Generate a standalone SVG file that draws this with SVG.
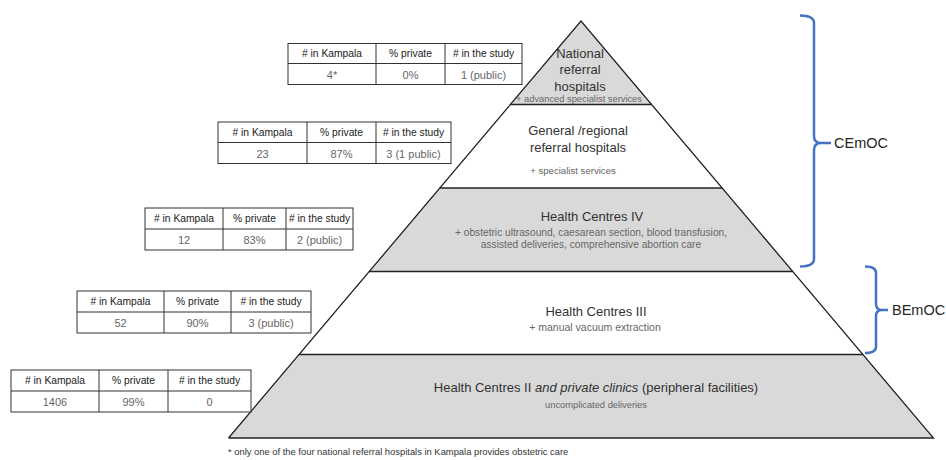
<svg xmlns="http://www.w3.org/2000/svg" width="946" height="460" viewBox="0 0 946 460">
<style>
text{font-family:"Liberation Sans",Arial,sans-serif}
.title{font-size:13px;fill:#333;text-anchor:middle}
.sub{fill:#666;text-anchor:middle}
.hd{font-size:10.3px;fill:#222;text-anchor:middle}
.val{font-size:11px;fill:#666;text-anchor:middle}
.tb{fill:#fff;stroke:#333;stroke-width:1}
.tl{stroke:#333;stroke-width:1}
.gray{fill:#d9d9d9}
.white{fill:#fff}
.edge{stroke:#222;stroke-width:1.3;fill:none}
.brace{stroke:#4472c4;stroke-width:2.5;fill:none;stroke-linecap:butt}
.lbl{font-size:14.5px;fill:#262626}
.foot{font-size:9.4px;fill:#333}
</style>
<rect width="946" height="460" fill="#fff"/>

<g id="tier-national">
<polygon class="gray" points="581,21 651.6,104.5 510.4,104.5"/>
<text class="title" x="580" y="58">National</text>
<text class="title" x="580" y="74">referral</text>
<text class="title" x="580" y="91">hospitals</text>
<text class="sub" x="579" y="101.5" font-size="9.3">+ advanced specialist services</text>
</g>

<g id="tier-general">
<polygon class="white" points="510.4,104.5 651.6,104.5 722.2,188 439.8,188"/>
<text class="title" x="578" y="135">General /regional</text>
<text class="title" x="578" y="152">referral hospitals</text>
<text class="sub" x="573" y="174" font-size="9.6">+ specialist services</text>
</g>

<g id="tier-hc4">
<polygon class="gray" points="439.8,188 722.2,188 792.7,271.5 369.3,271.5"/>
<text class="title" x="592" y="221">Health Centres IV</text>
<text class="sub" x="591" y="236" font-size="10.2">+ obstetric ultrasound, caesarean section, blood transfusion,</text>
<text class="sub" x="591" y="248" font-size="10.2">assisted deliveries, comprehensive abortion care</text>
</g>

<g id="tier-hc3">
<polygon class="white" points="369.3,271.5 792.7,271.5 862.9,354.5 299.1,354.5"/>
<text class="title" x="596" y="316">Health Centres III</text>
<text class="sub" x="595" y="331" font-size="10.5">+ manual vacuum extraction</text>
</g>

<g id="tier-hc2">
<polygon class="gray" points="299.1,354.5 862.9,354.5 933.5,438 228.5,438"/>
<text class="title" x="596" y="392">Health Centres II <tspan font-style="italic">and private clinics</tspan> (peripheral facilities)</text>
<text class="sub" x="596" y="408" font-size="9.3">uncomplicated deliveries</text>
</g>

<g id="pyramid-outline">
<polyline class="edge" points="228.5,438 581,21 933.5,438 228.5,438"/>
<line class="edge" x1="510.4" y1="104.5" x2="651.6" y2="104.5"/>
<line class="edge" x1="439.8" y1="188" x2="722.2" y2="188"/>
<line class="edge" x1="369.3" y1="271.5" x2="792.7" y2="271.5"/>
<line class="edge" x1="299.1" y1="354.5" x2="862.9" y2="354.5"/>
</g>

<g id="table-national">
<rect class="tb" x="288" y="43.5" width="234" height="41"/>
<line class="tl" x1="288" y1="63.5" x2="522" y2="63.5"/>
<line class="tl" x1="376" y1="43.5" x2="376" y2="84.5"/>
<line class="tl" x1="445" y1="43.5" x2="445" y2="84.5"/>
<text class="hd" x="332" y="57"># in Kampala</text>
<text class="hd" x="410.5" y="57">% private</text>
<text class="hd" x="483.5" y="57"># in the study</text>
<text class="val" x="332" y="78.5">4*</text>
<text class="val" x="410.5" y="78.5">0%</text>
<text class="val" x="483.5" y="78.5">1 (public)</text>
</g>

<g id="table-general">
<rect class="tb" x="218" y="122" width="233" height="41.5"/>
<line class="tl" x1="218" y1="142.5" x2="451" y2="142.5"/>
<line class="tl" x1="307" y1="122" x2="307" y2="163.5"/>
<line class="tl" x1="376" y1="122" x2="376" y2="163.5"/>
<text class="hd" x="262.5" y="136"># in Kampala</text>
<text class="hd" x="341.5" y="136">% private</text>
<text class="hd" x="413.5" y="136"># in the study</text>
<text class="val" x="262.5" y="157.5">23</text>
<text class="val" x="341.5" y="157.5">87%</text>
<text class="val" x="413.5" y="157.5">3 (1 public)</text>
</g>

<g id="table-hc4">
<rect class="tb" x="145" y="208" width="208" height="42"/>
<line class="tl" x1="145" y1="229" x2="353" y2="229"/>
<line class="tl" x1="223" y1="208" x2="223" y2="250"/>
<line class="tl" x1="286" y1="208" x2="286" y2="250"/>
<text class="hd" x="184" y="222" font-size="9.6"># in Kampala</text>
<text class="hd" x="254.5" y="222" font-size="9.6">% private</text>
<text class="hd" x="319.5" y="222" font-size="9.6"># in the study</text>
<text class="val" x="184" y="244">12</text>
<text class="val" x="254.5" y="244">83%</text>
<text class="val" x="319.5" y="244">2 (public)</text>
</g>

<g id="table-hc3">
<rect class="tb" x="77" y="291" width="234" height="42"/>
<line class="tl" x1="77" y1="312" x2="311" y2="312"/>
<line class="tl" x1="164" y1="291" x2="164" y2="333"/>
<line class="tl" x1="231" y1="291" x2="231" y2="333"/>
<text class="hd" x="120.5" y="305"># in Kampala</text>
<text class="hd" x="197.5" y="305">% private</text>
<text class="hd" x="271" y="305"># in the study</text>
<text class="val" x="120.5" y="327">52</text>
<text class="val" x="197.5" y="327">90%</text>
<text class="val" x="271" y="327">3 (public)</text>
</g>

<g id="table-hc2">
<rect class="tb" x="11" y="370" width="240" height="42"/>
<line class="tl" x1="11" y1="391" x2="251" y2="391"/>
<line class="tl" x1="99" y1="370" x2="99" y2="412"/>
<line class="tl" x1="168" y1="370" x2="168" y2="412"/>
<text class="hd" x="55" y="384"># in Kampala</text>
<text class="hd" x="133.5" y="384">% private</text>
<text class="hd" x="209.5" y="384"># in the study</text>
<text class="val" x="55" y="406">1406</text>
<text class="val" x="133.5" y="406">99%</text>
<text class="val" x="209.5" y="406">0</text>
</g>

<g id="connectors">
<path class="brace" d="M800,15.5 Q814,15.5 814,23 L814,136 Q814,143 821,143 L831,143 M821,143 Q814,143 814,150 L814,259 Q814,266.5 800,266.5"/>
<path class="brace" d="M865,266.5 Q876,266.5 876,273 L876,304 Q876,310 882,310 L888,310 M882,310 Q876,310 876,316 L876,346.5 Q876,353 865,353"/>
</g>

<g id="label-cemoc"><text class="lbl" x="834" y="148">CEmOC</text></g>
<g id="label-bemoc"><text class="lbl" x="892" y="315">BEmOC</text></g>

<g id="footnote"><text class="foot" x="228" y="455">* only one of the four national referral hospitals in Kampala provides obstetric care</text></g>
</svg>
